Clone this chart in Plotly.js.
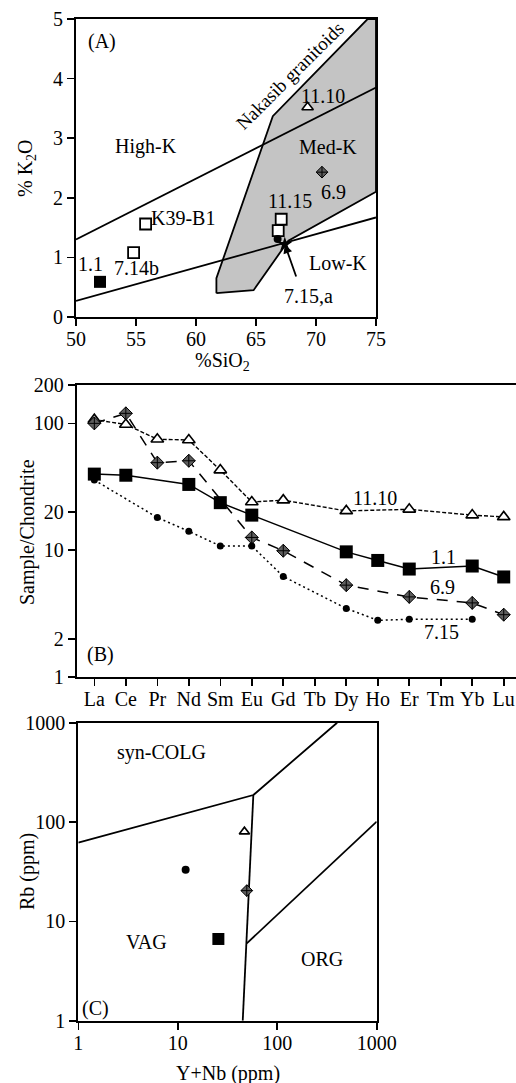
<!DOCTYPE html>
<html><head><meta charset="utf-8">
<script src="https://cdn.plot.ly/plotly-3.0.1.min.js"></script>
<style>html,body{margin:0;padding:0;background:#fff}#chart{width:516px;height:1083px}</style>
</head><body><div id="chart"></div>
<script>
// ---------- Panel A : K2O vs SiO2 ----------
const A_hiK_SiO2 = [50, 75];
const A_hiK_K2O = [1.30, 3.85];
const A_lowK_SiO2 = [50, 75];
const A_lowK_K2O = [0.27, 1.67];
const A_nakasib_SiO2 = [61.7, 64.8, 67.7, 75, 75, 74.3, 66.4, 61.7, 61.7];
const A_nakasib_K2O = [0.40, 0.45, 1.28, 2.10, 5.0, 5.0, 3.37, 0.65, 0.40];
const A_s11_SiO2 = [52.0];            const A_s11_K2O = [0.59];
const A_open_SiO2 = [54.8, 55.8, 67.1, 66.85];  const A_open_K2O = [1.08, 1.56, 1.64, 1.45];
const A_s715_SiO2 = [66.8];           const A_s715_K2O = [1.31];
const A_s715a_SiO2 = [67.4];          const A_s715a_K2O = [1.22];
const A_s69_SiO2 = [70.5];            const A_s69_K2O = [2.43];
const A_s1110_SiO2 = [69.3];          const A_s1110_K2O = [3.52];
const A_xticks = [50, 55, 60, 65, 70, 75];
const A_yticks = [0, 1, 2, 3, 4, 5];

// ---------- Panel B : REE / chondrite ----------
const REE = ['La','Ce','Pr','Nd','Sm','Eu','Gd','Tb','Dy','Ho','Er','Tm','Yb','Lu'];
const B_s1110 = [107, 98, 75, 74, 42.8, 24, 24.8, null, 20.4, null, 21, null, 18.9, 18.3];
const B_s11   = [39.8, 39, null, 33, 23.7, 18.9, null, null, 9.7, 8.3, 7.1, null, 7.5, 6.15];
const B_s69   = [100, 120, 49, 50.7, null, 12.6, 9.9, null, 5.3, null, 4.28, null, 3.84, 3.1];
const B_s715  = [35.7, null, 18.1, 14.1, 10.8, 10.8, 6.2, null, 3.47, 2.8, 2.85, null, 2.85, null];
const B_yticks = [1, 2, 10, 20, 100, 200];

// ---------- Panel C : Rb vs Y+Nb ----------
const C_synCOLG_YNb = [1, 57.5, 400];   const C_synCOLG_Rb = [62, 187, 1000];
const C_VAG_YNb = [57.5, 45];           const C_VAG_Rb = [187, 1];
const C_ORG_YNb = [49.4, 1000];         const C_ORG_Rb = [6.0, 101];
const C_s1110_YNb = [46.8]; const C_s1110_Rb = [80];
const C_s715_YNb = [12.0];  const C_s715_Rb = [33];
const C_s69_YNb = [49.4];   const C_s69_Rb = [20.4];
const C_s11_YNb = [25.6];   const C_s11_Rb = [6.65];
const C_ticks = [1, 10, 100, 1000];

const W = 516, H = 1083;
const px = v => v / W;
const py = v => 1 - v / H;
const FONT = '"Liberation Serif", "Times New Roman", serif';
const K = '#000';
const GRAYMK = '#5e5e5e';

const lineTr = (x, y, xa, ya, extra) => Object.assign({type:'scatter', mode:'lines', x, y, xaxis:xa, yaxis:ya,
  line:{color:K, width:1.8}, hoverinfo:'skip', showlegend:false}, extra || {});
const mkTr = (x, y, xa, ya, marker) => ({type:'scatter', mode:'markers', x, y, xaxis:xa, yaxis:ya,
  marker, hoverinfo:'skip', showlegend:false, cliponaxis:false});

const traces = [
  lineTr(A_nakasib_SiO2, A_nakasib_K2O, 'x', 'y', {fill:'toself', fillcolor:'#c4c4c4'}),
  lineTr(A_hiK_SiO2, A_hiK_K2O, 'x', 'y'),
  lineTr(A_lowK_SiO2, A_lowK_K2O, 'x', 'y'),
  mkTr(A_s11_SiO2, A_s11_K2O, 'x', 'y', {symbol:'square', size:12, color:K}),
  mkTr(A_open_SiO2, A_open_K2O, 'x', 'y', {symbol:'square', size:11, color:'#fff', line:{color:K, width:1.8}}),
  mkTr(A_s715_SiO2, A_s715_K2O, 'x', 'y', {symbol:'circle', size:8, color:K}),
  mkTr(A_s715a_SiO2, A_s715a_K2O, 'x', 'y', {symbol:'star', size:11, color:K}),
  mkTr(A_s69_SiO2, A_s69_K2O, 'x', 'y', {symbol:'diamond-cross', size:9, color:GRAYMK, line:{color:K, width:1}}),
  mkTr(A_s1110_SiO2, A_s1110_K2O, 'x', 'y', {symbol:'triangle-up', size:10, color:'#fff', line:{color:K, width:1.6}}),

  {type:'scatter', mode:'lines+markers', x:REE, y:B_s1110, xaxis:'x2', yaxis:'y2', connectgaps:true,
   line:{color:K, width:1.4, dash:'4px,2px'}, marker:{symbol:'triangle-up', size:11, color:'#fff', line:{color:K, width:1.6}},
   hoverinfo:'skip', showlegend:false, cliponaxis:false},
  {type:'scatter', mode:'lines+markers', x:REE, y:B_s69, xaxis:'x2', yaxis:'y2', connectgaps:true,
   line:{color:K, width:1.5, dash:'11px,9px'}, marker:{symbol:'diamond-cross', size:10, color:GRAYMK, line:{color:K, width:1}},
   hoverinfo:'skip', showlegend:false, cliponaxis:false},
  {type:'scatter', mode:'lines+markers', x:REE, y:B_s715, xaxis:'x2', yaxis:'y2', connectgaps:true,
   line:{color:K, width:1.5, dash:'2px,3px'}, marker:{symbol:'circle', size:7, color:K},
   hoverinfo:'skip', showlegend:false, cliponaxis:false},
  {type:'scatter', mode:'lines+markers', x:REE, y:B_s11, xaxis:'x2', yaxis:'y2', connectgaps:true,
   line:{color:K, width:1.5}, marker:{symbol:'square', size:13, color:K},
   hoverinfo:'skip', showlegend:false, cliponaxis:false},

  lineTr(C_synCOLG_YNb, C_synCOLG_Rb, 'x3', 'y3'),
  lineTr(C_VAG_YNb, C_VAG_Rb, 'x3', 'y3'),
  lineTr(C_ORG_YNb, C_ORG_Rb, 'x3', 'y3'),
  mkTr(C_s1110_YNb, C_s1110_Rb, 'x3', 'y3', {symbol:'triangle-up', size:9, color:'#fff', line:{color:K, width:1.6}}),
  mkTr(C_s715_YNb, C_s715_Rb, 'x3', 'y3', {symbol:'circle', size:8, color:K}),
  mkTr(C_s69_YNb, C_s69_Rb, 'x3', 'y3', {symbol:'diamond-cross', size:9, color:GRAYMK, line:{color:K, width:1}}),
  mkTr(C_s11_YNb, C_s11_Rb, 'x3', 'y3', {symbol:'square', size:12, color:K})
];

const tickF = {family:FONT, size:20, color:K};
const axBase = {showline:true, linecolor:K, linewidth:2, mirror:true, ticks:'outside', ticklen:7, tickwidth:1.6,
  tickcolor:K, showgrid:false, zeroline:false, tickfont:tickF, fixedrange:true};
const xBase = Object.assign({}, axBase, {ticklabelstandoff:-4});

const layout = {
  width:W, height:H, margin:{l:0, r:0, t:0, b:0}, paper_bgcolor:'#fff', plot_bgcolor:'rgba(0,0,0,0)',
  showlegend:false, font:{family:FONT, color:K},
  xaxis: Object.assign({}, xBase, {domain:[px(76), px(376)], anchor:'y', range:[50,75], tickvals:A_xticks}),
  yaxis: Object.assign({}, axBase, {domain:[py(317), py(19)], anchor:'x', range:[0,5], tickvals:A_yticks}),
  xaxis2: Object.assign({}, xBase, {domain:[px(76.7), 1], anchor:'y2', type:'category', categoryorder:'array',
    categoryarray:REE, range:[-0.56, 13.39], tickvals:REE}),
  yaxis2: Object.assign({}, axBase, {domain:[py(677), py(385.2)], anchor:'x2', type:'log', mirror:false,
    range:[0, Math.log10(200)], tickvals:B_yticks, ticktext:B_yticks.map(String)}),
  xaxis3: Object.assign({}, xBase, {domain:[px(78.3), px(376.7)], anchor:'y3', type:'log', range:[0,3],
    tickvals:C_ticks, ticktext:C_ticks.map(String)}),
  yaxis3: Object.assign({}, axBase, {domain:[py(1020.7), py(722.7)], anchor:'x3', type:'log', range:[0,3],
    tickvals:C_ticks, ticktext:C_ticks.map(String)}),
  annotations: []
};

const ann = (text, x, y, xref, yref, extra) => Object.assign({text, x, y, xref, yref, showarrow:false,
  font:{family:FONT, size:20, color:K}, xanchor:'center', yanchor:'middle'}, extra || {});
layout.annotations.push(
  // Panel A
  ann('(A)', 52.14, 4.62, 'x', 'y'),
  ann('High-K', 55.81, 2.86, 'x', 'y'),
  ann('Med-K', 71.03, 2.86, 'x', 'y'),
  ann('Low-K', 71.86, 0.90, 'x', 'y'),
  ann('Nakasib granitoids', 67.83, 4.06, 'x', 'y', {textangle:-45, font:{family:FONT, size:19, color:K}}),
  ann('11.10', 70.56, 3.71, 'x', 'y'),
  ann('6.9', 71.44, 2.09, 'x', 'y'),
  ann('11.15', 67.83, 1.95, 'x', 'y'),
  ann('K39-B1', 58.94, 1.66, 'x', 'y'),
  ann('1.1', 51.23, 0.89, 'x', 'y'),
  ann('7.14b', 55.06, 0.82, 'x', 'y'),
  ann('7.15,a', 69.36, 0.35, 'x', 'y'),
  {text:'', x:67.4, y:1.22, xref:'x', yref:'y', ax:68.39, ay:0.654, axref:'x', ayref:'y', showarrow:true,
   arrowhead:2, arrowsize:1, arrowwidth:1.8, arrowcolor:K},
  ann('% K<sub>2</sub>O', px(27), py(168), 'paper', 'paper', {textangle:-90}),
  ann('%SiO<sub>2</sub>', px(222), py(362), 'paper', 'paper'),
  // Panel B
  ann('11.10', 8.91, 1.408, 'x2', 'y2'),
  ann('1.1', 11.08, 0.947, 'x2', 'y2'),
  ann('6.9', 11.06, 0.706, 'x2', 'y2'),
  ann('7.15', 11.03, 0.355, 'x2', 'y2'),
  ann('(B)', 0.18, 0.179, 'x2', 'y2'),
  ann('Sample/Chondrite', px(27), py(532), 'paper', 'paper', {textangle:-90}),
  // Panel C
  ann('syn-COLG', 0.839, 2.698, 'x3', 'y3'),
  ann('VAG', 0.688, 0.795, 'x3', 'y3'),
  ann('ORG', 2.447, 0.618, 'x3', 'y3'),
  ann('(C)', 0.168, 0.125, 'x3', 'y3'),
  ann('Rb (ppm)', px(27), py(872), 'paper', 'paper', {textangle:-90}),
  ann('Y+Nb (ppm)', px(228), py(1073), 'paper', 'paper')
);

Plotly.newPlot('chart', traces, layout, {staticPlot:true, displayModeBar:false});
</script></body></html>
